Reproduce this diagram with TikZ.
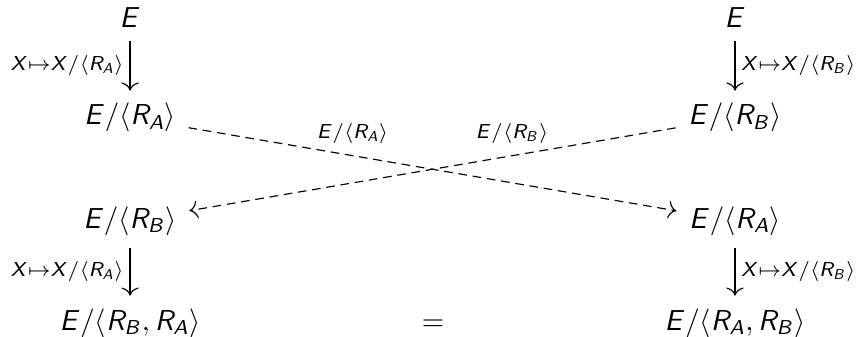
\documentclass[tikz,border=0pt]{standalone}
\usepackage{xcolor}
\usepackage{tikz}
\usetikzlibrary{arrows.meta}
% slanted sans letters in math
\DeclareSymbolFont{sfletters}{OT1}{cmss}{m}{sl}
\DeclareMathSymbol{A}{\mathalpha}{sfletters}{`A}
\DeclareMathSymbol{B}{\mathalpha}{sfletters}{`B}
\DeclareMathSymbol{E}{\mathalpha}{sfletters}{`E}
\DeclareMathSymbol{R}{\mathalpha}{sfletters}{`R}
\DeclareMathSymbol{X}{\mathalpha}{sfletters}{`X}
\newcommand{\quo}[1]{E/\langle #1\rangle}
\newcommand{\isog}[1]{X{\mapsto}X/\langle #1\rangle}

\begin{document}
\begin{tikzpicture}[
  ob/.style={anchor=base,inner sep=2.2pt},
  ar/.style={-{Computer Modern Rightarrow[scale=1.15]},shorten >=2pt,shorten <=2pt},
  da/.style={ar,dash pattern=on 3pt off 2pt},
  lb/.style={font=\fontsize{7.4}{9}\selectfont,inner sep=2pt}
]
\useasboundingbox (0,0) rectangle (10.476,4.110);
\node[ob] (topl) at (1.586,3.769) {$E$};
\node[ob] (ral) at (1.586,2.586) {$\quo{R_A}$};
\node[ob] (rbl) at (1.586,1.329) {$\quo{R_B}$};
\node[ob] (rbal) at (1.586,0.085) {$\quo{R_B,R_A}$};
\node[ob] (topr) at (8.964,3.769) {$E$};
\node[ob] (rbr) at (8.964,2.586) {$\quo{R_B}$};
\node[ob] (rar) at (8.964,1.329) {$\quo{R_A}$};
\node[ob] (rabr) at (8.964,0.085) {$\quo{R_A,R_B}$};
\node[ob] (eq) at (5.281,0.085) {$=$};

\draw[ar] (topl) -- node[lb,left]{$\isog{R_A}$} (ral);
\draw[ar] (rbl) -- node[lb,left]{$\isog{R_A}$} (rbal);
\draw[ar] (topr) -- node[lb,right]{$\isog{R_B}$} (rbr);
\draw[ar] (rar) -- node[lb,right]{$\isog{R_B}$} (rabr);
\draw[da] (ral) -- node[lb,above=2pt,pos=0.34]{$\quo{R_A}$} (rar);
\draw[da] (rbr) -- node[lb,above=2pt,pos=0.34]{$\quo{R_B}$} (rbl);
\end{tikzpicture}
\end{document}
